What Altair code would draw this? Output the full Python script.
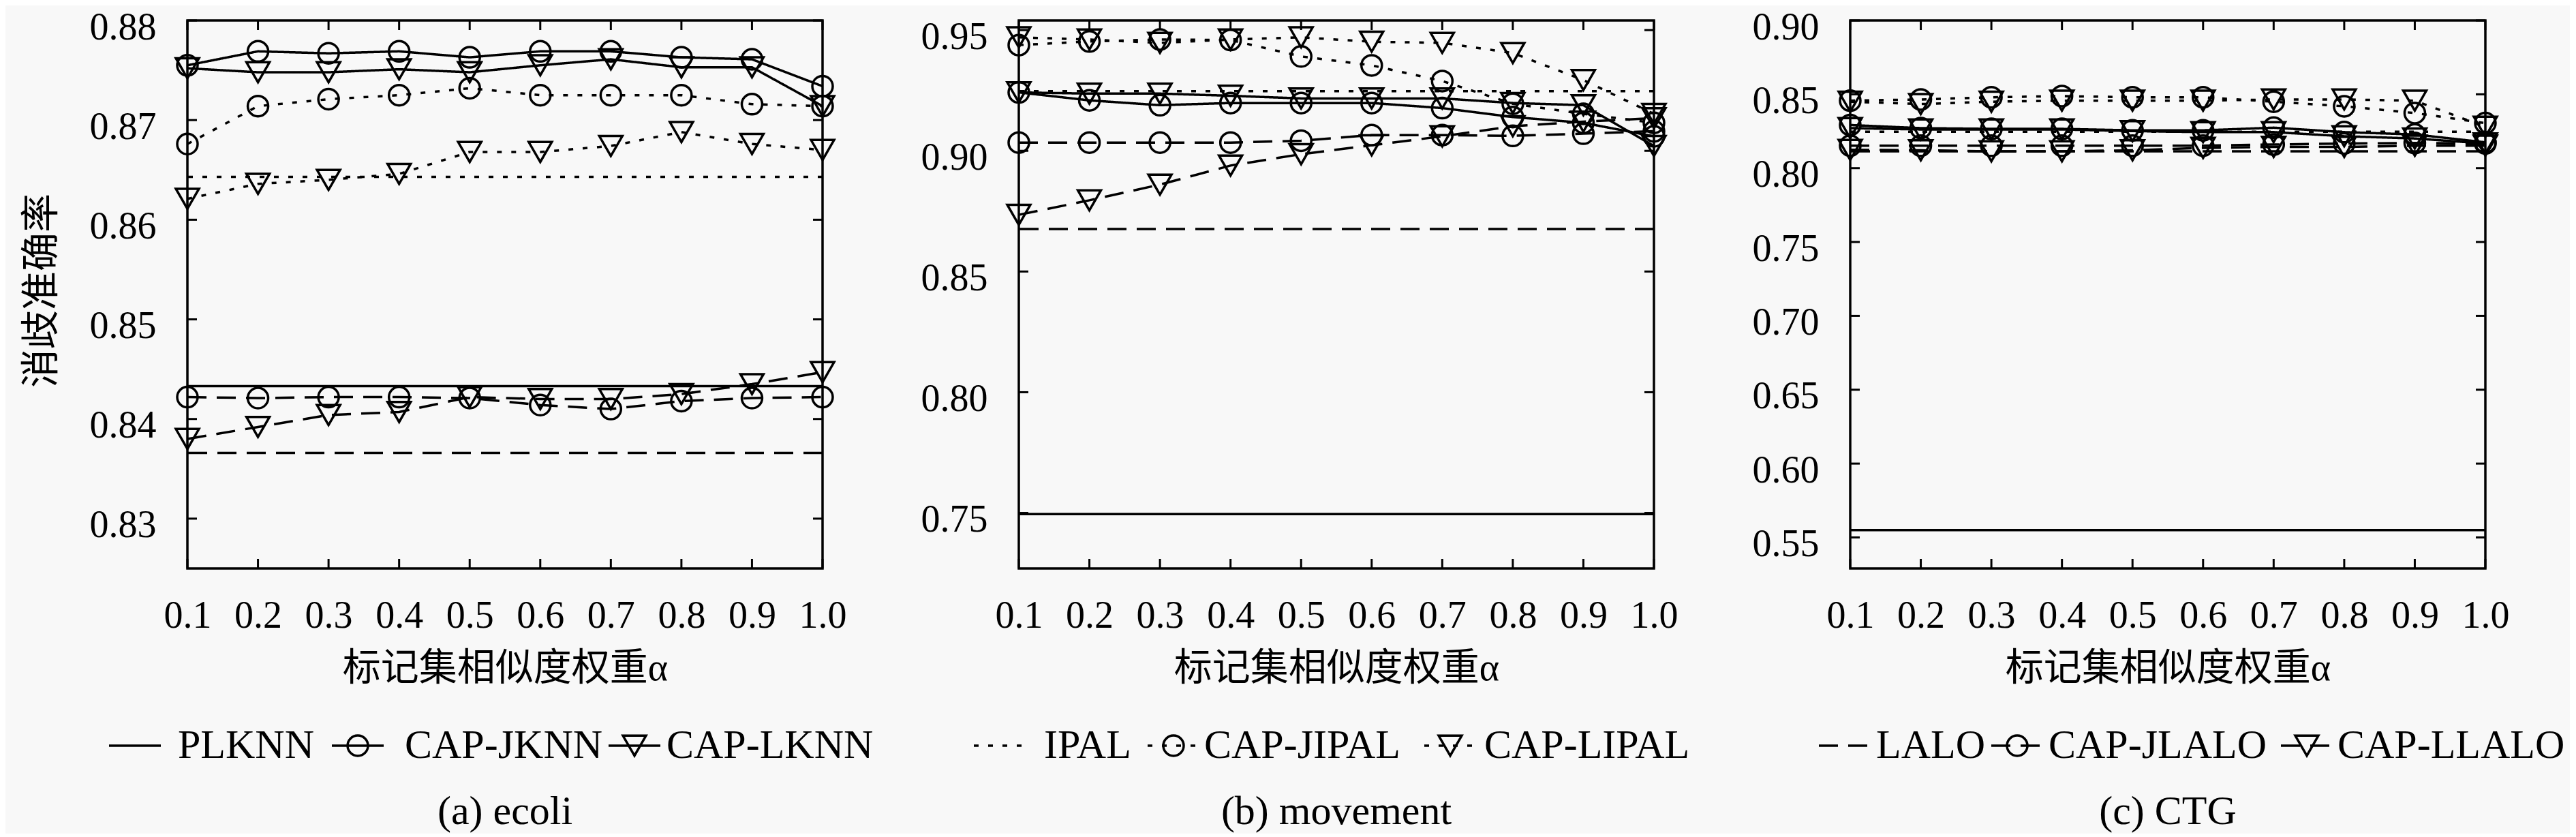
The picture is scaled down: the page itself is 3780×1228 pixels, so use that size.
import altair as alt
import pandas as pd

# ---------------- data ----------------
X_VALUES = [0.1, 0.2, 0.3, 0.4, 0.5, 0.6, 0.7, 0.8, 0.9, 1.0]

# (a) ecoli
A_PLKNN = 0.8433
A_IPAL = 0.8643
A_LALO = 0.8366
A_JKNN = [0.8755, 0.8769, 0.8767, 0.8769, 0.8763, 0.8769, 0.8769, 0.8763, 0.8761, 0.8734]
A_LKNN = [0.8752, 0.8748, 0.8748, 0.8751, 0.8748, 0.8755, 0.8761, 0.8753, 0.8753, 0.8714]
A_JIPAL = [0.8676, 0.8714, 0.8721, 0.8725, 0.8732, 0.8725, 0.8725, 0.8725, 0.8716, 0.8714]
A_LIPAL = [0.8621, 0.8636, 0.8640, 0.8646, 0.8668, 0.8668, 0.8674, 0.8688, 0.8676, 0.8670]
A_JLALO = [0.8422, 0.8421, 0.8422, 0.8422, 0.8421, 0.8414, 0.8410, 0.8418, 0.8421, 0.8422]
A_LLALO = [0.8380, 0.8392, 0.8404, 0.8407, 0.8422, 0.8420, 0.8420, 0.8425, 0.8435, 0.8447]

# (b) movement
B_PLKNN = 0.7495
B_IPAL = 0.9247
B_LALO = 0.8676
B_JKNN = [0.9242, 0.9209, 0.9189, 0.9198, 0.9198, 0.9198, 0.9177, 0.9140, 0.9116, 0.9060]
B_LKNN = [0.9242, 0.9237, 0.9237, 0.9228, 0.9217, 0.9217, 0.9217, 0.9198, 0.9189, 0.9020]
B_JIPAL = [0.9438, 0.9453, 0.9461, 0.9459, 0.9391, 0.9354, 0.9289, 0.9195, 0.9153, 0.9116]
B_LIPAL = [0.9470, 0.9461, 0.9447, 0.9461, 0.9470, 0.9452, 0.9447, 0.9405, 0.9293, 0.9153]
B_JLALO = [0.9034, 0.9034, 0.9034, 0.9034, 0.9042, 0.9065, 0.9065, 0.9062, 0.9071, 0.9081]
B_LLALO = [0.8735, 0.8795, 0.8860, 0.8939, 0.8986, 0.9023, 0.9060, 0.9102, 0.9121, 0.9135]

# (c) CTG
C_PLKNN = 0.5550
C_IPAL = 0.8247
C_LALO = 0.8114
C_JKNN = [0.8292, 0.8271, 0.8266, 0.8266, 0.8256, 0.8256, 0.8274, 0.8244, 0.8228, 0.8175]
C_LKNN = [0.8271, 0.8262, 0.8262, 0.8262, 0.8251, 0.8244, 0.8244, 0.8216, 0.8201, 0.8167]
C_JIPAL = [0.8457, 0.8465, 0.8480, 0.8488, 0.8480, 0.8480, 0.8450, 0.8419, 0.8373, 0.8305]
C_LIPAL = [0.8450, 0.8434, 0.8450, 0.8457, 0.8457, 0.8457, 0.8465, 0.8465, 0.8457, 0.8280]
C_JLALO = [0.8152, 0.8152, 0.8152, 0.8152, 0.8152, 0.8152, 0.8160, 0.8167, 0.8170, 0.8167]
C_LLALO = [0.8124, 0.8121, 0.8114, 0.8114, 0.8121, 0.8137, 0.8144, 0.8144, 0.8152, 0.8152]

A_YTICKS = [0.83, 0.84, 0.85, 0.86, 0.87, 0.88]
B_YTICKS = [0.75, 0.80, 0.85, 0.90, 0.95]
C_YTICKS = [0.55, 0.60, 0.65, 0.70, 0.75, 0.80, 0.85, 0.90]
A_YDOMAIN = [0.825, 0.88]
B_YDOMAIN = [0.727, 0.954]
C_YDOMAIN = [0.529, 0.90]

SUBTITLES = ["(a) ecoli", "(b) movement", "(c) CTG"]
X_TITLE = "标记集相似度权重α"
Y_TITLE = "消歧准确率"

BASELINE_NAMES = ["PLKNN", "IPAL", "LALO"]
J_NAMES = ["CAP-JKNN", "CAP-JIPAL", "CAP-JLALO"]
L_NAMES = ["CAP-LKNN", "CAP-LIPAL", "CAP-LLALO"]
STYLES = ["solid", "dotted", "dashed"]

# ---------------- layout / style ----------------
W, H = 932, 804
SERIF = "Liberation Serif"
CJK = "Liberation Serif, Noto Sans CJK SC"
LW = 3.5
TICK = 14
CIRCLE_SIZE = 900
TRI_SIZE = 1150
LEG_Y = H + 260
SUB_Y = H + 357
SYM_LEN = 76
LEG_SYM = [[-115, 212, 618], [-66, 189, 595], [-46, 207, 632]]
LEG_TXT = [[-14, 319, 703], [37, 272, 683], [38, 291, 715]]

DASH = alt.StrokeDash(
    "style:N",
    scale=alt.Scale(domain=STYLES, range=[[1, 0], [7, 14], [28, 15]]),
    legend=None,
)


def build_panel(idx, base_vals, jser, lser, ydom, yticks):
    rows = []
    for fam in range(3):
        for x, y in zip(X_VALUES, jser[fam]):
            rows.append({"x": x, "y": y, "series": J_NAMES[fam], "style": STYLES[fam], "marker": "circle"})
        for x, y in zip(X_VALUES, lser[fam]):
            rows.append({"x": x, "y": y, "series": L_NAMES[fam], "style": STYLES[fam], "marker": "triangle"})
    df = pd.DataFrame(rows)
    bdf = pd.DataFrame({"series": BASELINE_NAMES, "value": base_vals, "style": STYLES})

    xsc = alt.Scale(domain=[0.1, 1.0], nice=False, zero=False)
    ysc = alt.Scale(domain=ydom, nice=False, zero=False)

    xaxis = alt.Axis(
        values=X_VALUES, format=".1f", ticks=False, domain=False, grid=False,
        labelFont=SERIF, labelFontSize=56, labelColor="black", labelPadding=42,
        labelAngle=0, labelFlush=False, labelOverlap=False,
        title=X_TITLE, titleFont=CJK, titleFontSize=56, titleFontWeight="normal",
        titleColor="black", titleY=146, titleBaseline="middle",
    )
    yaxis_kw = dict(
        values=yticks, format=".2f", ticks=False, domain=False, grid=False,
        labelFont=SERIF, labelFontSize=56, labelColor="black", labelPadding=46,
        labelOverlap=False, labelOffset=10,
    )
    if idx == 0:
        yaxis = alt.Axis(
            **yaxis_kw, title=Y_TITLE, titleFont="Noto Sans CJK SC", titleFontSize=57,
            titleFontWeight="normal", titleColor="black", titleX=-214, titleY=396,
            titleAngle=270, titleAlign="center", titleBaseline="middle",
        )
    else:
        yaxis = alt.Axis(**yaxis_kw, title=None)

    lines = alt.Chart(df).mark_line(color="black", strokeWidth=LW).encode(
        x=alt.X("x:Q", scale=xsc, axis=xaxis),
        y=alt.Y("y:Q", scale=ysc, axis=yaxis),
        detail="series:N",
        strokeDash=DASH,
    )
    circles = alt.Chart(df).transform_filter("datum.marker == 'circle'").mark_point(
        shape="circle", filled=False, color="black", strokeWidth=LW, size=CIRCLE_SIZE, opacity=1
    ).encode(x=alt.X("x:Q", scale=xsc), y=alt.Y("y:Q", scale=ysc))
    tris = alt.Chart(df).transform_filter("datum.marker == 'triangle'").mark_point(
        shape="triangle-down", filled=False, color="black", strokeWidth=LW, size=TRI_SIZE, opacity=1
    ).encode(x=alt.X("x:Q", scale=xsc), y=alt.Y("y:Q", scale=ysc))
    base = alt.Chart(bdf).mark_rule(color="black", strokeWidth=LW).encode(
        y=alt.Y("value:Q", scale=ysc), strokeDash=DASH
    )

    xt = pd.DataFrame({"t": X_VALUES})
    yt = pd.DataFrame({"t": yticks})
    tick_kw = dict(color="black", strokeWidth=3)
    xt_top = alt.Chart(xt).mark_rule(**tick_kw).encode(
        x=alt.X("t:Q", scale=xsc), y=alt.value(0), y2=alt.value(TICK))
    xt_bot = alt.Chart(xt).mark_rule(**tick_kw).encode(
        x=alt.X("t:Q", scale=xsc), y=alt.value(H), y2=alt.value(H - TICK))
    yt_left = alt.Chart(yt).mark_rule(**tick_kw).encode(
        y=alt.Y("t:Q", scale=ysc), x=alt.value(0), x2=alt.value(TICK))
    yt_right = alt.Chart(yt).mark_rule(**tick_kw).encode(
        y=alt.Y("t:Q", scale=ysc), x=alt.value(W), x2=alt.value(W - TICK))

    # legend (three entries of the family this panel represents)
    names = [BASELINE_NAMES[idx], J_NAMES[idx], L_NAMES[idx]]
    markers = [None, "circle", "triangle-down"]
    leg_layers = []
    for k in range(3):
        ldf = pd.DataFrame({"label": [names[k]], "style": [STYLES[idx]]})
        s = LEG_SYM[idx][k]
        leg_layers.append(
            alt.Chart(ldf).mark_rule(color="black", strokeWidth=LW).encode(
                x=alt.value(s), x2=alt.value(s + SYM_LEN), y=alt.value(LEG_Y), strokeDash=DASH)
        )
        if markers[k]:
            leg_layers.append(
                alt.Chart(ldf).mark_point(
                    shape=markers[k], filled=False, color="black", strokeWidth=LW,
                    size=CIRCLE_SIZE if markers[k] == "circle" else TRI_SIZE, opacity=1,
                ).encode(x=alt.value(s + SYM_LEN / 2), y=alt.value(LEG_Y))
            )
        leg_layers.append(
            alt.Chart(ldf).mark_text(
                align="left", baseline="middle", font=SERIF, fontSize=60, color="black"
            ).encode(x=alt.value(LEG_TXT[idx][k]), y=alt.value(LEG_Y), text="label:N")
        )

    sdf = pd.DataFrame({"label": [SUBTITLES[idx]]})
    sub = alt.Chart(sdf).mark_text(
        align="center", baseline="middle", font=SERIF, fontSize=60, color="black"
    ).encode(x=alt.value(W / 2), y=alt.value(SUB_Y), text="label:N")

    return alt.layer(
        lines, base, circles, tris, xt_top, xt_bot, yt_left, yt_right, *leg_layers, sub
    ).properties(width=W, height=H)


pa = build_panel(0, [A_PLKNN, A_IPAL, A_LALO], [A_JKNN, A_JIPAL, A_JLALO],
                 [A_LKNN, A_LIPAL, A_LLALO], A_YDOMAIN, A_YTICKS)
pb = build_panel(1, [B_PLKNN, B_IPAL, B_LALO], [B_JKNN, B_JIPAL, B_JLALO],
                 [B_LKNN, B_LIPAL, B_LLALO], B_YDOMAIN, B_YTICKS)
pc = build_panel(2, [C_PLKNN, C_IPAL, C_LALO], [C_JKNN, C_JIPAL, C_JLALO],
                 [C_LKNN, C_LIPAL, C_LLALO], C_YDOMAIN, C_YTICKS)

chart = alt.hconcat(pa, pb, pc, spacing=288, bounds="flush").properties(
    padding={"left": 22, "top": 2, "right": 5, "bottom": 0},
    background="#f8f8f8",
).configure_view(stroke="black", strokeWidth=3.5)

chart.save("out.html", embed_options={"renderer": "svg", "actions": False})
